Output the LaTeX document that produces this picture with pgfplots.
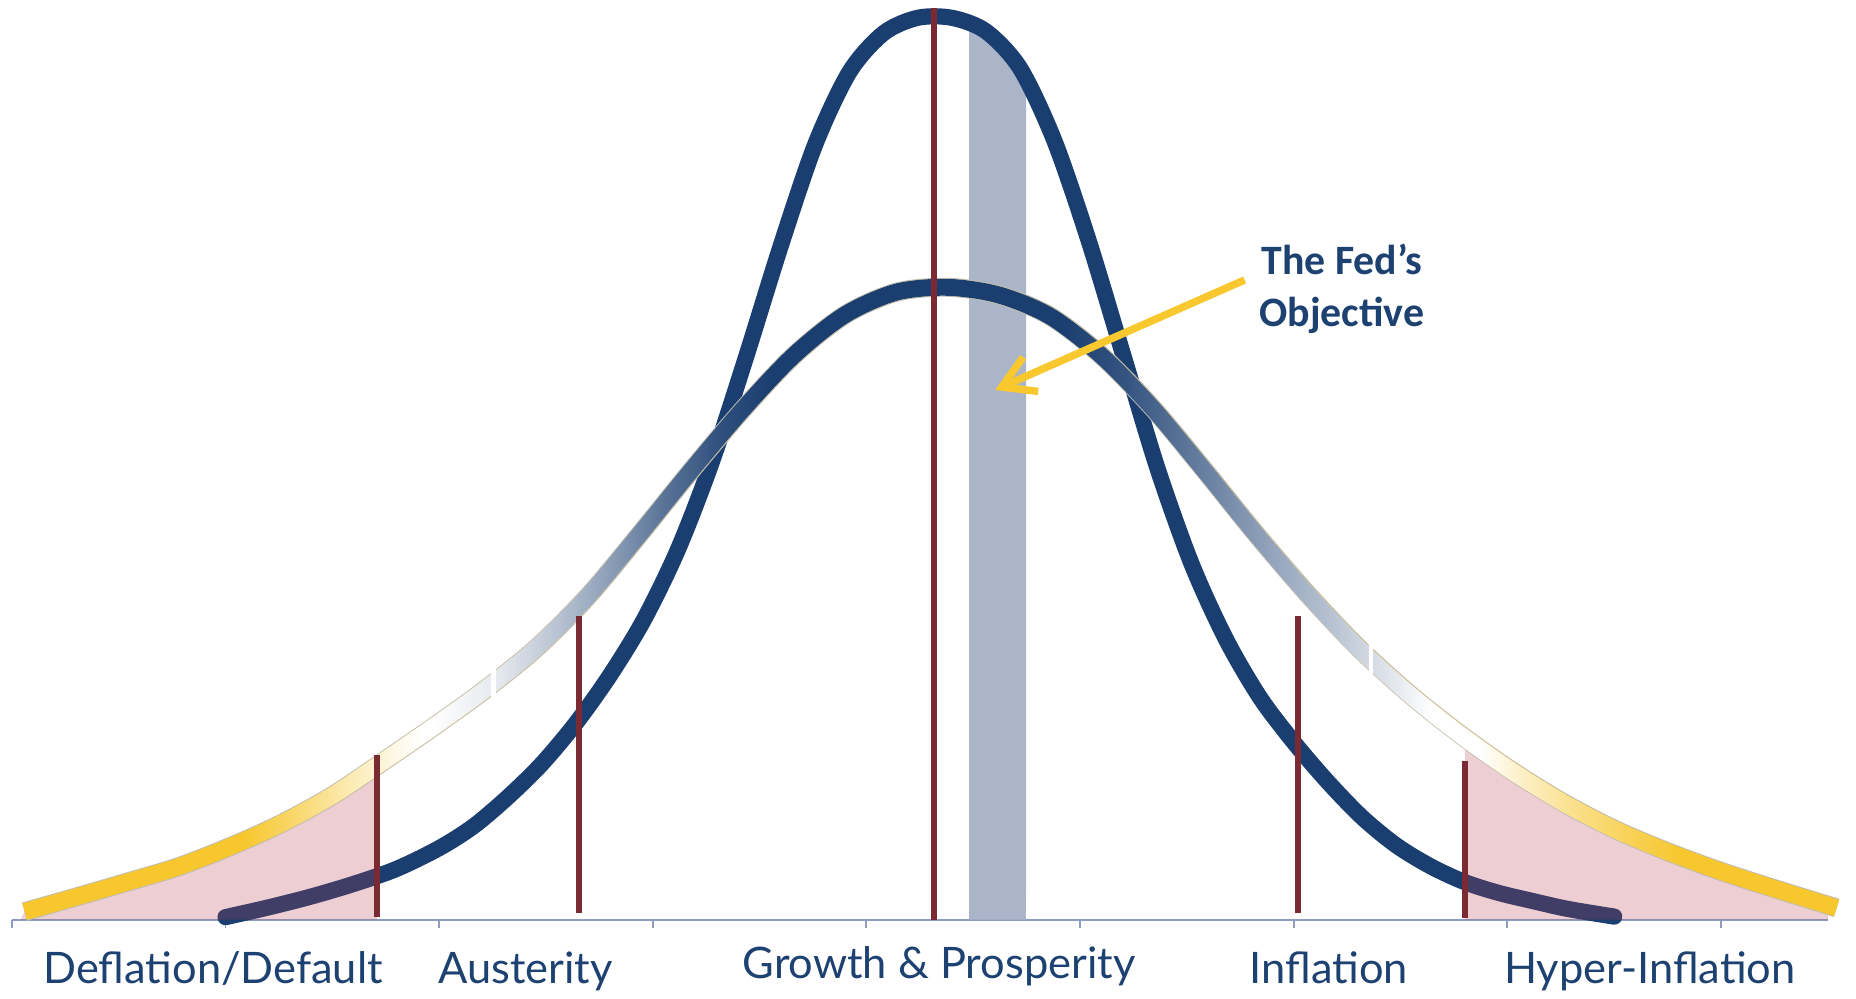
\documentclass[border=0pt]{standalone}
\usepackage{pgfplots}
\pgfplotsset{compat=1.18}
\usepackage{pgfplotstable}
\usepgfplotslibrary{fillbetween}
\usetikzlibrary{arrows.meta,fadings}
\usepackage{fontspec}
\setmainfont{Lato}
\newfontfamily\calloutfont{Carlito}

\definecolor{curvenavy}{RGB}{26,62,112}
\definecolor{textnavy}{RGB}{29,65,113}
\definecolor{tailgold}{RGB}{247,199,45}
\definecolor{edgegrey}{RGB}{192,188,178}
\definecolor{wine}{RGB}{123,42,52}
\definecolor{bandblue}{RGB}{170,181,201}
\definecolor{axisblue}{RGB}{140,157,192}
\definecolor{tailred}{RGB}{180,60,80}
\definecolor{arrowgold}{RGB}{248,200,46}

% opacity along the wide curve: 25bp = left end of the curve, 75bp = right end
\pgfdeclarehorizontalshading{paleprofile}{100bp}{%
  color(0bp)=(black); color(33.47bp)=(black); color(34.71bp)=(black!70);
  color(36.08bp)=(black!35); color(37.22bp)=(black!10); color(37.78bp)=(white);
  color(63.19bp)=(white); color(64.33bp)=(black!30); color(65.7bp)=(black!60);
  color(67.08bp)=(black!85); color(68.1bp)=(black); color(100bp)=(black)}
\pgfdeclarehorizontalshading{navyprofile}{100bp}{%
  color(0bp)=(black); color(38.04bp)=(black); color(39.67bp)=(black!88);
  color(40.98bp)=(black!70); color(42.29bp)=(black!50); color(43.59bp)=(black!28);
  color(44.9bp)=(black!10); color(46.2bp)=(white); color(53.07bp)=(white);
  color(54.7bp)=(black!12); color(56.04bp)=(black!28); color(57.9bp)=(black!50);
  color(59.73bp)=(black!70); color(61.1bp)=(black!88); color(62.01bp)=(black);
  color(100bp)=(black)}
\pgfdeclarefading{palefade}{\tikz\shade[shading=paleprofile] (-1cm,-1cm) rectangle (1cm,1cm);}
\pgfdeclarefading{navyfade}{\tikz\shade[shading=navyprofile] (-1cm,-1cm) rectangle (1cm,1cm);}

% narrow distribution
\pgfplotstableread{
x y
1.00 0.28
1.20 1.35
1.40 2.55
1.60 3.95
1.80 5.60
2.00 7.90
2.16 10.30
2.32 13.50
2.48 17.20
2.64 21.70
2.80 27.00
2.96 33.20
3.12 41.00
3.28 50.80
3.44 62.40
3.60 74.50
3.76 85.60
3.92 93.60
4.08 97.90
4.24 99.60
4.40 99.60
4.56 98.10
4.72 94.00
4.88 86.00
5.04 75.00
5.20 62.50
5.36 50.00
5.52 39.40
5.68 31.10
5.84 24.60
6.00 19.60
6.16 15.20
6.32 11.30
6.48 8.20
6.64 5.90
6.80 4.15
6.96 2.95
7.12 2.05
7.28 1.20
7.50 0.34
}\tallcurve

% wide distribution
\pgfplotstableread{
x y
0.06 0.89
0.30 2.50
0.54 4.15
0.78 5.85
1.02 8.05
1.26 10.60
1.50 13.70
1.74 17.50
1.98 21.40
2.22 25.50
2.46 30.10
2.70 35.80
2.94 42.60
3.18 49.60
3.42 56.30
3.66 62.30
3.90 66.80
4.14 69.30
4.38 69.84
4.62 69.00
4.86 66.65
5.10 62.30
5.34 56.50
5.58 49.70
5.82 42.70
6.06 36.10
6.30 30.10
6.54 24.95
6.78 20.45
7.02 16.45
7.26 12.95
7.50 10.00
7.74 7.60
7.98 5.50
8.22 3.65
8.541 1.30
}\widecurve

\begin{document}
\begin{tikzpicture}
\begin{axis}[
    scale only axis,
    width=470.4pt, height=253.2pt,
    xmin=-0.0554, xmax=8.6316,
    ymin=-8.758, ymax=101.57,
    axis line style={draw=none},
    ticks=none,
    clip=false,
    fill between/on layer=main,
]

% paths used by the fills
\addplot[draw=none, smooth, name path=wide] table {\widecurve};
\addplot[draw=none, smooth, name path=tall] table {\tallcurve};

% axis line and ticks
\addplot[sharp plot, axisblue, line width=0.5pt, name path=base] coordinates {(0,0) (8.5,0)};
\addplot[ycomb, axisblue, line width=0.5pt, mark=none] coordinates {
    (0,-0.9) (1,-0.9) (2,-0.9) (3,-0.9) (4,-0.9) (5,-0.9) (6,-0.9) (7,-0.9) (8,-0.9)};

% the Fed's objective band
\addplot[fill=bandblue, draw=none] fill between[of=tall and base, soft clip={domain=4.481:4.747}];

% narrow curve
\addplot[curvenavy, line width=4.1pt, line cap=round, smooth] table {\tallcurve};

% shaded tails
\addplot[fill=tailred, fill opacity=0.25, draw=none] fill between[of=wide and base, soft clip={domain=0.04:1.709}];
\addplot[fill=tailred, fill opacity=0.25, draw=none] fill between[of=wide and base, soft clip={domain=6.802:8.5}];

% wide curve: gold tails, pale shoulders, navy middle
\addplot[edgegrey, line width=4.8pt, smooth] table {\widecurve};
\addplot[tailgold, line width=4.3pt, smooth] table {\widecurve};
\addplot[white, line width=4.3pt, smooth, path fading=palefade] table {\widecurve};
\addplot[curvenavy, line width=4.3pt, smooth, path fading=navyfade] table {\widecurve};

% small breaks in the wide curve
\addplot[sharp plot, white, line width=1.2pt] coordinates {(2.255,24.6) (2.255,28.5)};
\addplot[sharp plot, white, line width=1.2pt] coordinates {(6.362,27.0) (6.362,30.6)};

% boundary markers
\addplot[sharp plot, wine, line width=1.5pt] coordinates {(1.709,0.34) (1.709,18.2)};
\addplot[sharp plot, wine, line width=1.5pt] coordinates {(2.654,0.7) (2.654,33.5)};
\addplot[sharp plot, wine, line width=1.5pt] coordinates {(4.317,0) (4.317,100.65)};
\addplot[sharp plot, wine, line width=1.5pt] coordinates {(6.018,0.7) (6.018,33.5)};
\addplot[sharp plot, wine, line width=1.5pt] coordinates {(6.802,0.2) (6.802,17.57)};

% callout arrow
\addplot[sharp plot, arrowgold, line width=1.9pt, -{Straight Barb[length=8pt, width=9.5pt]}]
    coordinates {(5.770,70.65) (4.602,58.5)};
\node[anchor=base, inner sep=0pt, text=textnavy, font=\calloutfont\bfseries\fontsize{10.6}{13}\selectfont]
    at (axis cs:6.225,71.2) {The Fed’s};
\node[anchor=base, inner sep=0pt, text=textnavy, font=\calloutfont\bfseries\fontsize{10.6}{13}\selectfont]
    at (axis cs:6.225,65.49) {Objective};

% region labels
\node[anchor=base, inner sep=0pt, text=textnavy, font=\fontsize{11}{13}\selectfont] at (axis cs:0.942,-7.02) {Deflation/Default};
\node[anchor=base, inner sep=0pt, text=textnavy, font=\fontsize{11}{13}\selectfont] at (axis cs:2.405,-7.02) {Austerity};
\node[anchor=base, inner sep=0pt, text=textnavy, font=\fontsize{11}{13}\selectfont] at (axis cs:4.340,-6.47) {Growth \& Prosperity};
\node[anchor=base, inner sep=0pt, text=textnavy, font=\fontsize{11}{13}\selectfont] at (axis cs:6.165,-7.02) {Inflation};
\node[anchor=base, inner sep=0pt, text=textnavy, font=\fontsize{11}{13}\selectfont] at (axis cs:7.667,-7.02) {Hyper-Inflation};
\end{axis}
\pgfresetboundingbox
\path (current axis.south west) rectangle (current axis.north east);
\end{tikzpicture}
\end{document}
